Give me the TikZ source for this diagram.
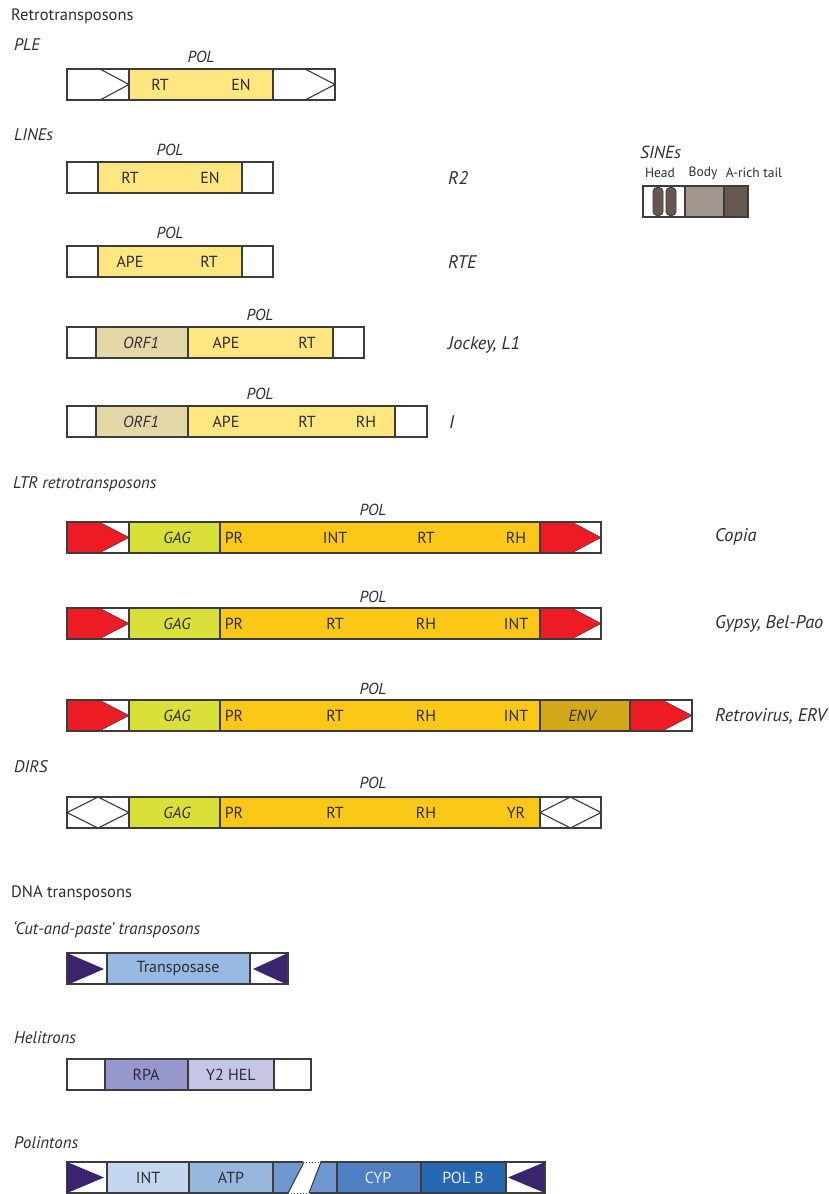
\documentclass[tikz,border=0pt]{standalone}
\usepackage{fontspec}
\setmainfont{PT Sans}
\usetikzlibrary{positioning}

\definecolor{edge}{RGB}{60,60,60}
\definecolor{txt}{RGB}{45,45,52}
\definecolor{lineY}{RGB}{255,230,128}
\definecolor{orf}{RGB}{228,215,168}
\definecolor{gag}{RGB}{218,224,58}
\definecolor{polY}{RGB}{252,200,24}
\definecolor{env}{RGB}{210,168,26}
\definecolor{ltr}{RGB}{237,28,36}
\definecolor{sineD}{RGB}{102,88,78}
\definecolor{sineB}{RGB}{162,151,142}
\definecolor{tir}{RGB}{58,36,110}
\definecolor{tpase}{RGB}{152,185,225}
\definecolor{rpa}{RGB}{150,152,205}
\definecolor{hel}{RGB}{196,198,228}
\definecolor{pInt}{RGB}{196,215,238}
\definecolor{pAtp}{RGB}{152,183,222}
\definecolor{pMid}{RGB}{112,152,208}
\definecolor{pCyp}{RGB}{78,128,196}
\definecolor{pPol}{RGB}{38,104,178}

% segment: [fill]{x left}{x right}{y top}
\newcommand\sg[4][white]{\filldraw[bx,fill=#1] (#2,#4) rectangle (#3,#4+31);}
% LTR pointing right: {x left}{x right}{y top}
\newcommand\ltrR[3]{\filldraw[bx,fill=white] (#1,#3) rectangle (#2,#3+31);
  \filldraw[fill=ltr,draw=edge,line width=0.5pt] (#1,#3) -- ({#1+0.52*(#2-#1)},#3) -- (#2,#3+15.5)
    -- ({#1+0.52*(#2-#1)},#3+31) -- (#1,#3+31) -- cycle;
  \draw[bx] (#1,#3) rectangle (#2,#3+31);}

\begin{document}
\begin{tikzpicture}[x=1pt, y=-1pt,
  bx/.style={draw=edge, line width=1.1pt},
  t/.style={text=txt, inner sep=0pt, font=\fontsize{16}{18}\selectfont},
  ti/.style={t, font=\fontsize{16}{18}\selectfont\itshape},
  hd/.style={t, anchor=west, font=\fontsize{16.5}{18}\selectfont},
  hi/.style={ti, anchor=west, font=\fontsize{16.8}{18}\selectfont\itshape},
  rl/.style={t, anchor=west, font=\fontsize{18.3}{20}\selectfont\itshape},
  sm/.style={text=txt, inner sep=0pt, font=\fontsize{13.5}{15}\selectfont}]
\useasboundingbox (0,0) rectangle (828,1194);

% ---- retrotransposons
\node[hd] (retro) at (11,16) {Retrotransposons};
\node[hi] (ple) at (14,45) {PLE};
\sg{67}{129}{69} \draw[bx] (100,69) -- (129,84.5) -- (100,100);
\sg[lineY]{129}{273}{69}
\sg{273}{335}{69} \draw[bx] (305,69) -- (335,84.5) -- (305,100);
\node[ti] (ple-pol) at (201,57) {POL};
\node[t] (ple-rt) at (160,85) {RT};
\node[t] (ple-en) at (241,85) {EN};

\node[hi] (lines) at (14,135) {LINEs};
% R2
\sg{67}{98}{162} \sg[lineY]{98}{242}{162} \sg{242}{273}{162}
\node[ti] (r2-pol) at (170,150) {POL};
\node[t] (r2-rt) at (130,177.5) {RT};
\node[t] (r2-en) at (210,177.5) {EN};
\node[rl] (r2) at (448,178) {R2};
% RTE
\sg{67}{98}{246} \sg[lineY]{98}{242}{246} \sg{242}{273}{246}
\node[ti] (rte-pol) at (170,233) {POL};
\node[t] (rte-ape) at (130,261.5) {APE};
\node[t] (rte-rt) at (209,261.5) {RT};
\node[rl] (rte) at (448,262) {RTE};
% Jockey
\sg{67}{96}{327} \sg[orf]{96}{188}{327} \sg[lineY]{188}{333}{327} \sg{333}{364}{327}
\node[ti] (jk-pol) at (260,315) {POL};
\node[ti] (jk-orf) at (141,342.5) {ORF1};
\node[t] (jk-ape) at (226,342.5) {APE};
\node[t] (jk-rt) at (307,342.5) {RT};
\node[rl] (jockey) at (448,345) {Jockey, L1};
% I
\sg{67}{96}{406} \sg[orf]{96}{188}{406} \sg[lineY]{188}{395}{406} \sg{395}{427}{406}
\node[ti] (i-pol) at (260,394) {POL};
\node[ti] (i-orf) at (141,421.5) {ORF1};
\foreach \x/\s [count=\k] in {226/APE,307/RT,366/RH}
  \node[t] (i-\k) at (\x,421.5) {\s};
\node[rl] (ifam) at (449,422) {I};

% SINEs
\node[rl, font=\fontsize{17.5}{19}\selectfont\itshape] (sines) at (640,152) {SINEs};
\node[sm] (head) at (660,173) {Head};
\node[sm] (body) at (703,173) {Body};
\node[sm] (tail) at (754,173) {A-rich tail};
\sg{643}{685}{186}
\foreach \x in {653,666}
  \filldraw[fill=sineD,draw=edge,line width=0.8pt,rounded corners=4pt] (\x,187.5) rectangle (\x+10,215.5);
\sg[sineB]{685}{724}{186} \sg[sineD]{724}{748}{186}

% ---- LTR retrotransposons
\node[hi] (ltrs) at (13,484) {LTR retrotransposons};
% Copia
\ltrR{67}{129}{522} \sg[gag]{129}{220}{522} \sg[polY]{220}{540}{522} \ltrR{540}{601}{522}
\node[ti] (cop-pol) at (373,510) {POL};
\node[ti] (cop-gag) at (177,537.5) {GAG};
\foreach \x/\s [count=\k] in {234/PR,335/INT,426/RT,516/RH}
  \node[t] (cop-\k) at (\x,537.5) {\s};
\node[rl] (copia) at (715,537) {Copia};
% Gypsy
\ltrR{67}{129}{608} \sg[gag]{129}{220}{608} \sg[polY]{220}{540}{608} \ltrR{540}{601}{608}
\node[ti] (gy-pol) at (373,597) {POL};
\node[ti] (gy-gag) at (177,623.5) {GAG};
\foreach \x/\s [count=\k] in {234/PR,335/RT,426/RH,516/INT}
  \node[t] (gy-\k) at (\x,623.5) {\s};
\node[rl] (gypsy) at (715,624) {Gypsy, Bel-Pao};
% Retrovirus
\ltrR{67}{129}{700} \sg[gag]{129}{220}{700} \sg[polY]{220}{540}{700}
\sg[env]{540}{630}{700} \ltrR{630}{692}{700}
\node[ti] (rv-pol) at (373,689) {POL};
\node[ti] (rv-gag) at (177,715.5) {GAG};
\foreach \x/\s [count=\k] in {234/PR,335/RT,426/RH,516/INT}
  \node[t] (rv-\k) at (\x,715.5) {\s};
\node[ti] (rv-env) at (582,715.5) {ENV};
\node[rl] (retrov) at (715,716) {Retrovirus, ERV};

% DIRS
\node[hi] (dirs) at (14,767) {DIRS};
\sg{67}{129}{797} \draw[bx] (67,812.5) -- (98,797) -- (129,812.5) -- (98,828) -- cycle;
\sg[gag]{129}{220}{797} \sg[polY]{220}{540}{797}
\sg{540}{601}{797} \draw[bx] (540,812.5) -- (570.5,797) -- (601,812.5) -- (570.5,828) -- cycle;
\node[ti] (dr-pol) at (373,783) {POL};
\node[ti] (dr-gag) at (177,812.5) {GAG};
\foreach \x/\s [count=\k] in {234/PR,335/RT,426/RH,516/YR}
  \node[t] (dr-\k) at (\x,812.5) {\s};

% ---- DNA transposons
\node[hd] (dna) at (11,893) {DNA transposons};
\node[hi] (cutpaste) at (13,930) {‘Cut-and-paste’ transposons};
\sg{67}{107}{953} \fill[tir] (67,953) -- (104,969) -- (67,985) -- cycle;
\sg[tpase]{107}{250}{953}
\sg{250}{288}{953} \fill[tir] (288,953) -- (253,969) -- (288,985) -- cycle;
\draw[bx] (67,953) rectangle (288,984);
\node[t] (tpase) at (178,968.5) {Transposase};

% Helitrons
\node[hi] (heli) at (14,1038) {Helitrons};
\sg{67}{105}{1059} \sg[rpa]{105}{188}{1059} \sg[hel]{188}{274}{1059} \sg{274}{311}{1059}
\node[t] (rpa) at (146,1074.5) {RPA};
\node[t] (y2hel) at (231,1074.5) {Y2 HEL};

% Polintons
\node[hi] (poli) at (14,1143) {Polintons};
\sg{67}{107}{1162} \fill[tir] (67,1162) -- (104,1177.5) -- (67,1193) -- cycle;
\sg[pInt]{107}{189}{1162} \sg[pAtp]{189}{273}{1162} \sg[pMid]{273}{337}{1162}
\fill[white] (288,1195) -- (304,1160) -- (321,1160) -- (309,1195) -- cycle;
\draw[bx] (288,1193) -- (304,1162) (309,1193) -- (321,1162);
\draw[edge,dotted,line width=1pt] (306,1162) -- (319,1162) (291,1193.5) -- (307,1193.5);
\sg[pCyp]{337}{421}{1162} \sg[pPol]{421}{506}{1162}
\sg{506}{545}{1162} \fill[tir] (545,1162) -- (508,1177.5) -- (545,1193) -- cycle;
\draw[bx] (506,1162) rectangle (545,1193);
\node[t] (p-int) at (148,1177.5) {INT};
\node[t] (p-atp) at (231,1177.5) {ATP};
\node[t,text=white!92!blue] (p-cyp) at (378,1177.5) {CYP};
\node[t,text=white!92!blue] (p-polb) at (463,1177.5) {POL B};
\end{tikzpicture}
\end{document}
